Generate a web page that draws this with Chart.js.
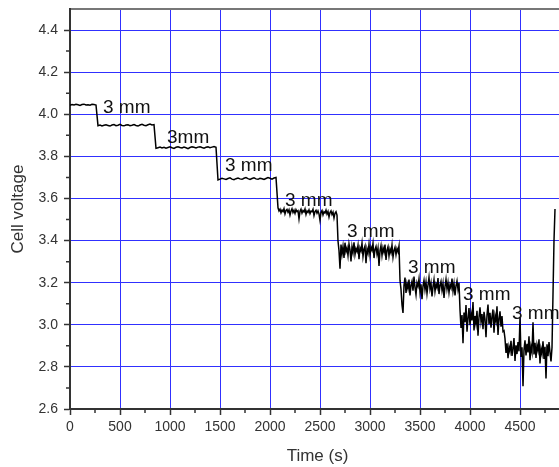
<!DOCTYPE html>
<html>
<head>
<meta charset="utf-8">
<script src="https://cdn.jsdelivr.net/npm/chart.js@4/dist/chart.umd.min.js"></script>
<style>
  html, body { margin: 0; padding: 0; background: #fff; overflow: hidden; }
  #wrap { width: 580px; height: 467px; }
</style>
</head>
<body>
<div id="wrap"><canvas id="c" width="580" height="467"></canvas></div>
<script>
// Discharge record: cell voltage vs time, one block per 3 mm step.
// The quiet first steps are logged every 20 s, the noisy later steps every 10 s.
const timeS = [
  0,20,40,60,80,100,120,140,160,180,200,220,240,260,
  280,300,320,340,360,380,400,420,440,460,480,500,520,540,560,580,600,620,640,660,680,700,720,740,760,780,800,820,840,
  860,880,900,920,940,960,980,1000,1020,1040,1060,1080,1100,1120,1140,1160,1180,1200,1220,1240,1260,1280,1300,1320,1340,1360,1380,1400,1420,1440,1460,
  1480,1500,1520,1540,1560,1580,1600,1620,1640,1660,1680,1700,1720,1740,1760,1780,1800,1820,1840,1860,1880,1900,1920,1940,1960,1980,2000,2020,2040,2060,
  2080,2090,2100,2110,2120,2130,2140,2150,2160,2170,
  2180,2190,2200,2210,2220,2230,2240,2250,2260,2270,
  2280,2290,2300,2310,2320,2330,2340,2350,2360,2370,
  2380,2390,2400,2410,2420,2430,2440,2450,2460,2470,
  2480,2490,2500,2510,2520,2530,2540,2550,2560,2570,
  2580,2590,2600,2610,2620,2630,2640,2650,2660,2670,
  2680,2690,2700,2710,2720,2730,2740,2750,2760,2770,
  2780,2790,2800,2810,2820,2830,2840,2850,2860,2870,
  2880,2890,2900,2910,2920,2930,2940,2950,2960,2970,
  2980,2990,3000,3010,3020,3030,3040,3050,3060,3070,
  3080,3090,3100,3110,3120,3130,3140,3150,3160,3170,
  3180,3190,3200,3210,3220,3230,3240,3250,3260,3270,
  3280,3290,
  3300,3310,3320,3330,3340,3350,3360,3370,3380,3390,
  3400,3410,3420,3430,3440,3450,3460,3470,3480,3490,
  3500,3510,3520,3530,3540,3550,3560,3570,3580,3590,
  3600,3610,3620,3630,3640,3650,3660,3670,3680,3690,
  3700,3710,3720,3730,3740,3750,3760,3770,3780,3790,
  3800,3810,3820,3830,3840,3850,3860,3870,3880,3890,
  3900,3910,3920,3930,3940,3950,3960,3970,3980,3990,
  4000,4010,4020,4030,4040,4050,4060,4070,4080,4090,
  4100,4110,4120,4130,4140,4150,4160,4170,4180,4190,
  4200,4210,4220,4230,4240,4250,4260,4270,4280,4290,
  4300,4310,4320,4330,
  4340,4350,4360,4370,4380,4390,4400,4410,4420,4430,
  4440,4450,4460,4470,4480,4490,4500,4510,4520,4530,
  4540,4550,4560,4570,4580,4590,4600,4610,4620,4630,
  4640,4650,4660,4670,4680,4690,4700,4710,4720,4730,
  4740,4750,4760,4770,4780,4790,4800,4810,4820,
  4840,4850
];

const voltage = [
  4.043,4.046,4.044,4.047,4.045,4.042,4.046,4.048,4.044,4.045,4.043,4.047,4.046,4.044,
  3.946,3.949,3.945,3.948,3.950,3.947,3.944,3.949,3.951,3.946,3.948,3.952,3.947,3.945,3.949,3.950,3.946,3.948,3.951,3.947,3.944,3.949,3.952,3.948,3.946,3.950,3.953,3.949,3.951,
  3.838,3.841,3.844,3.840,3.843,3.839,3.842,3.845,3.841,3.838,3.843,3.846,3.842,3.840,3.844,3.841,3.837,3.842,3.845,3.843,3.840,3.844,3.846,3.842,3.839,3.843,3.845,3.841,3.844,3.847,3.843,
  3.688,3.692,3.696,3.693,3.690,3.695,3.698,3.692,3.689,3.694,3.697,3.693,3.691,3.696,3.699,3.694,3.690,3.695,3.698,3.693,3.691,3.696,3.694,3.690,3.695,3.699,3.696,3.692,3.697,3.700,
  // step 5
  3.556,3.541,3.549,3.532,3.545,3.538,3.552,3.527,3.543,3.548,
  3.535,3.546,3.521,3.540,3.551,3.533,3.544,3.529,3.547,3.538,
  3.542,3.503,3.539,3.549,3.531,3.543,3.536,3.550,3.524,3.541,
  3.534,3.546,3.528,3.540,3.537,3.549,3.519,3.538,3.544,3.530,
  3.541,3.527,3.496,3.535,3.543,3.522,3.537,3.531,3.545,3.526,
  3.538,3.512,3.533,3.541,3.524,3.535,3.507,3.530,3.537,3.521,
  // step 6
  3.398,3.352,3.266,3.381,3.336,3.372,3.318,3.390,3.347,3.365,
  3.329,3.384,3.356,3.301,3.371,3.343,3.392,3.334,3.362,3.348,
  3.377,3.312,3.366,3.351,3.388,3.325,3.359,3.374,3.293,3.361,
  3.340,3.383,3.331,3.369,3.354,3.387,3.317,3.358,3.372,3.336,
  3.364,3.279,3.352,3.376,3.329,3.366,3.345,3.381,3.308,3.355,
  3.371,3.327,3.360,3.342,3.379,3.321,3.353,3.368,3.334,3.362,
  3.347,3.374,
  // step 7
  3.212,3.168,3.094,3.056,3.187,3.224,3.151,3.196,3.172,3.215,
  3.139,3.188,3.207,3.162,3.229,3.177,3.143,3.199,3.183,3.218,
  3.156,3.192,3.121,3.184,3.211,3.167,3.203,3.148,3.189,3.226,
  3.171,3.198,3.135,3.181,3.214,3.159,3.193,3.176,3.222,3.146,
  3.187,3.206,3.164,3.197,3.128,3.182,3.216,3.170,3.201,3.153,
  3.191,3.175,3.219,3.161,3.196,3.140,3.185,3.208,3.168,3.199,
  // step 8
  3.071,2.985,3.046,2.912,3.058,3.012,3.094,2.967,3.031,3.079,
  2.998,3.054,3.021,3.108,2.973,3.042,3.006,3.067,2.948,3.036,
  3.083,3.015,3.051,2.979,3.062,3.027,2.941,3.048,3.096,3.003,
  3.057,2.986,3.039,3.073,2.962,3.044,3.018,3.088,2.952,3.029,
  3.064,2.991,3.041,2.968,
  // step 9
  2.972,2.934,2.866,2.912,2.841,2.896,2.873,2.924,2.852,2.889,
  2.937,2.828,2.903,2.861,2.918,2.874,3.034,2.847,2.893,2.708,
  2.881,2.926,2.854,2.910,2.869,2.945,2.832,2.898,2.871,3.012,
  2.859,2.915,2.842,2.904,2.878,2.931,2.816,2.887,2.862,2.922,
  2.838,2.895,2.745,2.907,2.851,2.918,2.869,2.826,2.892,
  // recovery
  3.400,3.550
];

// Axis ticks
const xTicks = [0, 500, 1000, 1500, 2000, 2500, 3000, 3500, 4000, 4500];
const xMinorTicks = [250, 750, 1250, 1750, 2250, 2750, 3250, 3750, 4250, 4750];
const yTicks = [2.6, 2.8, 3.0, 3.2, 3.4, 3.6, 3.8, 4.0, 4.2, 4.4];
const yMinorTicks = [2.7, 2.9, 3.1, 3.3, 3.5, 3.7, 3.9, 4.1, 4.3];

// Step annotations: text, left edge (s) and vertical centre (V)
const stepLabels = ['3 mm', '3mm', '3 mm', '3 mm', '3 mm', '3 mm', '3 mm', '3 mm'];
const stepLabelTime = [330, 970, 1550, 2150, 2770, 3380, 3930, 4420];
const stepLabelVolt = [4.029, 3.890, 3.756, 3.590, 3.443, 3.271, 3.142, 3.051];

const FONT = "'Liberation Sans', Arial, sans-serif";
const AXIS_COLOR = '#333';

const points = timeS.map((t, i) => ({ x: t, y: voltage[i] }));

// Short minor tick marks on the outside of both axes
const minorTickPlugin = {
  id: 'minorTicks',
  afterDraw(chart) {
    const { ctx, chartArea: a, scales: { x, y } } = chart;
    ctx.save();
    ctx.strokeStyle = AXIS_COLOR;
    ctx.lineWidth = 1.5;
    ctx.beginPath();
    xMinorTicks.forEach(v => {
      const px = x.getPixelForValue(v);
      if (px > a.right) return;
      ctx.moveTo(px, a.bottom);
      ctx.lineTo(px, a.bottom + 4);
    });
    yMinorTicks.forEach(v => {
      const py = y.getPixelForValue(v);
      ctx.moveTo(a.left - 4, py);
      ctx.lineTo(a.left, py);
    });
    ctx.stroke();
    ctx.restore();
  }
};

// Text labels placed beside each voltage step
const stepLabelPlugin = {
  id: 'stepLabels',
  afterDatasetsDraw(chart) {
    const { ctx, scales: { x, y } } = chart;
    ctx.save();
    ctx.fillStyle = '#111';
    ctx.font = `19px ${FONT}`;
    ctx.textAlign = 'left';
    ctx.textBaseline = 'middle';
    stepLabels.forEach((txt, i) => {
      ctx.fillText(txt, x.getPixelForValue(stepLabelTime[i]), y.getPixelForValue(stepLabelVolt[i]));
    });
    ctx.restore();
  }
};

const noEdgePadding = s => { s.paddingTop = 0; s.paddingBottom = 0; s.paddingLeft = 0; s.paddingRight = 0; };

new Chart(document.getElementById('c'), {
  type: 'line',
  data: {
    datasets: [{
      data: points,
      borderColor: '#000',
      borderWidth: 1.5,
      pointRadius: 0,
      tension: 0,
      fill: false
    }]
  },
  options: {
    responsive: false,
    animation: false,
    layout: { padding: { left: 0, right: 15, top: 0, bottom: 0 } },
    plugins: { legend: { display: false }, tooltip: { enabled: false } },
    scales: {
      x: {
        type: 'linear',
        position: 'bottom',
        min: 0,
        max: 4950,
        afterBuildTicks: s => { s.ticks = xTicks.map(v => ({ value: v })); },
        afterFit: s => { s.height = 58; noEdgePadding(s); },
        grid: { color: '#3030ff', lineWidth: 1, tickColor: AXIS_COLOR, tickLength: 6, tickWidth: 1.5 },
        border: { color: AXIS_COLOR, width: 2 },
        ticks: { color: AXIS_COLOR, font: { family: FONT, size: 14 }, padding: 4, maxRotation: 0, autoSkip: false, callback: v => String(v) },
        title: { display: true, text: 'Time (s)', color: AXIS_COLOR, font: { family: FONT, size: 17 }, padding: { top: 0, bottom: 0 } }
      },
      x2: {
        type: 'linear',
        position: 'top',
        min: 0,
        max: 4950,
        afterFit: s => { s.height = 9; noEdgePadding(s); },
        grid: { display: false, drawTicks: false },
        border: { color: '#777', width: 2 },
        ticks: { display: false }
      },
      y: {
        type: 'linear',
        min: 2.6,
        max: 4.5,
        afterBuildTicks: s => { s.ticks = yTicks.map(v => ({ value: v })); },
        afterFit: s => { s.width = 70; noEdgePadding(s); },
        grid: { color: '#3030ff', lineWidth: 1, tickColor: AXIS_COLOR, tickLength: 6, tickWidth: 1.5 },
        border: { color: AXIS_COLOR, width: 2 },
        ticks: { color: AXIS_COLOR, font: { family: FONT, size: 14 }, padding: 6, callback: v => Number(v).toFixed(1) },
        title: { display: true, text: 'Cell voltage', color: AXIS_COLOR, font: { family: FONT, size: 17 }, padding: { top: 8, bottom: 0 } }
      }
    }
  },
  plugins: [minorTickPlugin, stepLabelPlugin]
});
</script>
</body>
</html>
